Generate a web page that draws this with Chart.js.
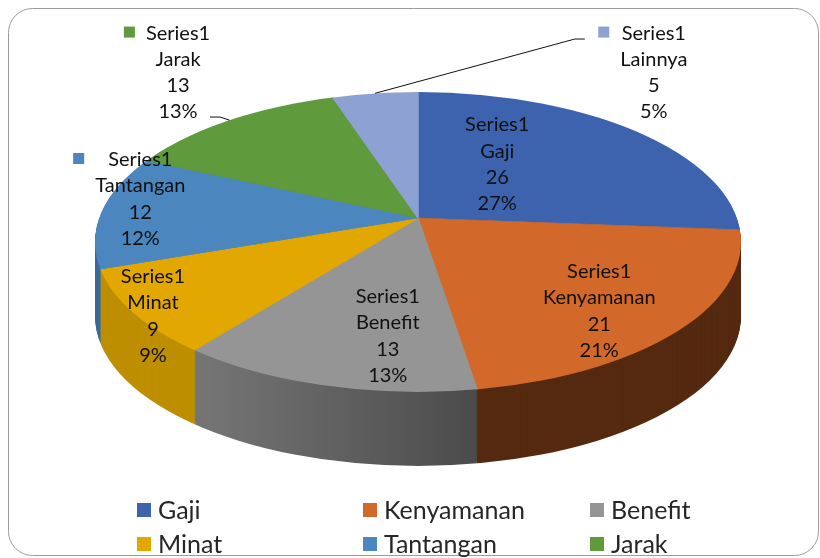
<!DOCTYPE html>
<html><head><meta charset="utf-8">
<script src="https://cdn.jsdelivr.net/npm/chart.js@4/dist/chart.umd.min.js"></script>
<style>html,body{margin:0;padding:0;background:#fff}canvas{display:block}</style>
</head><body>
<canvas id="c" width="820" height="558"></canvas>
<script>
// ---- data ----
const categories = ['Gaji', 'Kenyamanan', 'Benefit', 'Minat', 'Tantangan', 'Jarak', 'Lainnya'];
const values = [26, 21, 13, 9, 12, 13, 5];
const percentLabels = ['27%', '21%', '13%', '9%', '12%', '13%', '5%'];
const seriesName = 'Series1';

// ---- styles ----
const topColors = ['#3D63AE', '#D2692A', '#959595', '#E2A700', '#4C86BF', '#5F9A3D', '#8EA1D3'];
const sideColors = ['#2B4A85', '#552A10', null, '#BE8F00', '#3A6B9C', '#4A7A2E', '#6F80AE'];
// rim ellipse (cx, cy, rx, ry), perspective apex (ax, ay), wall depth
const GEO = { cx: 418, cy: 242, rx: 323, ry: 150, ax: 418, ay: 218, depth: 74, over: 1.3 };
const LABEL_FONT = '20px Lato';
const LABEL_LINE = 26.3;
const labelNudge = [[-75, 11.5], [27, 26], [22.5, 22.6], [-94, 40.4], [-68, -15.4], [-100, -73.8], [269, -50.2]];
const showKey = [false, false, false, false, true, true, true];
const leaders = [
  { i: 5, pts: [[32, 45.5], [42, 45.5]] },
  { i: 6, pts: [[-69, -32.5], [-79, -32.5]] }
];
const LEGEND_FONT = '25px Lato';
const legendCols = [137, 363, 590];
const legendRows = [510, 544, 578];

function applyTilt(ctx, arc, dy) {
  const r = arc.outerRadius;
  ctx.beginPath();
  ctx.ellipse(GEO.cx, GEO.cy + dy, GEO.rx, GEO.ry, 0, 0, Math.PI * 2);
  ctx.clip();
  ctx.translate(GEO.ax, GEO.ay + dy);
  ctx.scale(GEO.over * GEO.rx / r, GEO.over * GEO.ry / r);
  ctx.translate(-arc.x, -arc.y);
}
function proj(theta, f) {
  return { x: GEO.ax + GEO.rx * f * Math.cos(theta), y: GEO.ay + GEO.ry * f * Math.sin(theta) };
}
function rimPoint(theta) {
  const sy = (GEO.ay - GEO.cy) / GEO.ry;
  const dx = Math.cos(theta), dy = Math.sin(theta);
  const b = sy * dy;
  const t = -b + Math.sqrt(b * b - sy * sy + 1);
  return { x: GEO.cx + GEO.rx * t * dx, y: GEO.cy + GEO.ry * (sy + t * dy) };
}

const tiltPlugin = {
  id: 'tilt',
  beforeDraw(chart) {
    const ctx = chart.ctx;
    ctx.save();
    ctx.strokeStyle = '#9c9c9c';
    ctx.lineWidth = 1;
    ctx.beginPath();
    ctx.roundRect(8.5, 8.5, 810, 547, 24);
    ctx.stroke();
    ctx.restore();
  },
  beforeDatasetsDraw(chart) {
    const ctx = chart.ctx;
    const meta = chart.getDatasetMeta(0);
    const a0 = meta.data[0];
    const r = a0.outerRadius;
    for (let d = GEO.depth; d >= 1; d--) {
      ctx.save();
      applyTilt(ctx, a0, d);
      meta.data.forEach((arc, i) => {
        let fill = sideColors[i];
        if (!fill) {
          const g = ctx.createLinearGradient(arc.x - r * 0.5, 0, arc.x + r * 0.2, 0);
          g.addColorStop(0, '#747474');
          g.addColorStop(1, '#474747');
          fill = g;
        }
        ctx.fillStyle = fill;
        ctx.beginPath();
        ctx.moveTo(arc.x, arc.y);
        ctx.arc(arc.x, arc.y, arc.outerRadius, arc.startAngle, arc.endAngle);
        ctx.closePath();
        ctx.fill();
      });
      ctx.restore();
    }
    ctx.save();
    applyTilt(ctx, a0, 0);
  },
  afterDatasetsDraw(chart) {
    const ctx = chart.ctx;
    ctx.restore();
    const meta = chart.getDatasetMeta(0);
    ctx.save();
    ctx.font = LABEL_FONT;
    ctx.textAlign = 'center';
    ctx.textBaseline = 'middle';
    const centers = [];
    meta.data.forEach((arc, i) => {
      const mid = (arc.startAngle + arc.endAngle) / 2;
      const p = proj(mid, 0.65);
      const c = { x: p.x + labelNudge[i][0], y: p.y + labelNudge[i][1] };
      centers.push(c);
      const lines = [seriesName, categories[i], String(values[i]), percentLabels[i]];
      let maxW = 0;
      lines.forEach(t => { maxW = Math.max(maxW, ctx.measureText(t).width); });
      if (showKey[i]) {
        ctx.fillStyle = topColors[i];
        ctx.fillRect(c.x - maxW / 2 - 22, c.y - 1.5 * LABEL_LINE - 5.5, 11, 11);
      }
      ctx.fillStyle = '#111';
      lines.forEach((t, j) => ctx.fillText(t, c.x, c.y + (j - 1.5) * LABEL_LINE + 1));
    });
    ctx.strokeStyle = '#111';
    ctx.lineWidth = 1;
    leaders.forEach(L => {
      const arc = meta.data[L.i];
      const c = centers[L.i];
      const rim = rimPoint((arc.startAngle + arc.endAngle) / 2);
      ctx.beginPath();
      ctx.moveTo(c.x + L.pts[0][0], c.y + L.pts[0][1]);
      ctx.lineTo(c.x + L.pts[1][0], c.y + L.pts[1][1]);
      ctx.lineTo(rim.x, rim.y);
      ctx.stroke();
    });
    ctx.font = LEGEND_FONT;
    ctx.textAlign = 'left';
    categories.forEach((name, i) => {
      const x = legendCols[i % 3], y = legendRows[Math.floor(i / 3)];
      ctx.fillStyle = topColors[i];
      ctx.fillRect(x, y - 7, 14, 14);
      ctx.fillStyle = '#262626';
      ctx.fillText(name, x + 21, y + 1);
    });
    ctx.restore();
  }
};

new Chart(document.getElementById('c'), {
  type: 'pie',
  data: {
    labels: categories,
    datasets: [{
      label: seriesName,
      data: values,
      backgroundColor: topColors,
      borderColor: topColors,
      borderWidth: 1,
      clip: false
    }]
  },
  options: {
    responsive: false,
    animation: false,
    events: [],
    layout: { padding: 0 },
    plugins: { legend: { display: false }, tooltip: { enabled: false } }
  },
  plugins: [tiltPlugin]
});
</script>
</body></html>
